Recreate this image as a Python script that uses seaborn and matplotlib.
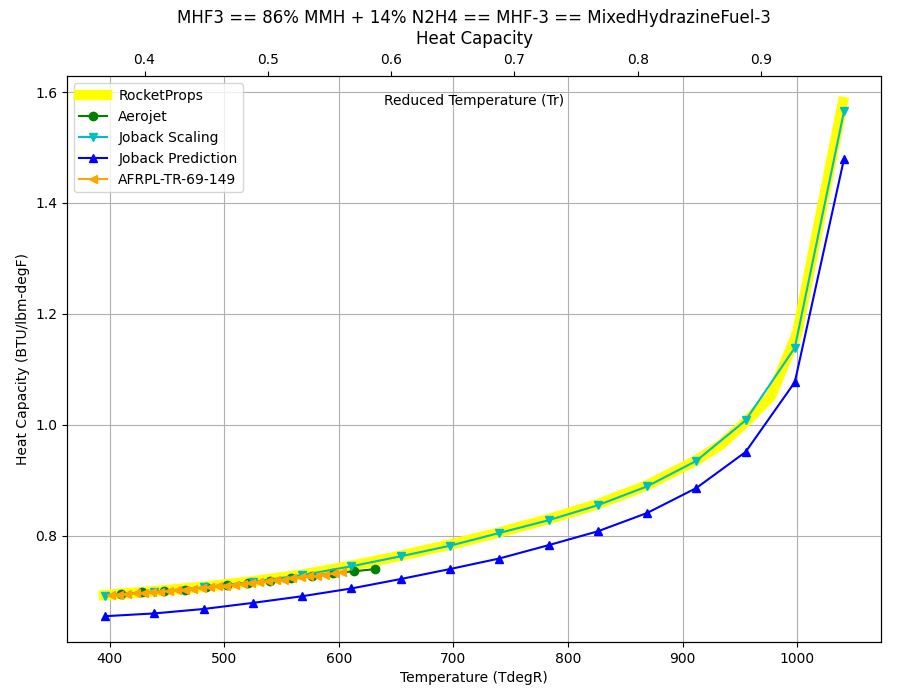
import matplotlib
matplotlib.use("Agg")
import matplotlib.pyplot as plt
import seaborn as sns

# critical temperature (degR) used for the reduced temperature axis
TC = 1076.0

rp_t = [395, 439, 482, 525, 568, 611, 654, 697, 740, 783, 826, 869, 912, 934, 955, 977, 1000, 1040]
rp_cp = [0.693, 0.700, 0.708, 0.718, 0.730, 0.746, 0.764, 0.784, 0.806, 0.830, 0.857, 0.891, 0.936, 0.965, 1.005, 1.051, 1.165, 1.582]

aj_t = [410, 428.5, 447, 465.5, 484, 502.5, 521, 539.5, 558, 576.5, 595, 613.5, 632]
aj_cp = [0.695, 0.698, 0.700, 0.703, 0.707, 0.711, 0.715, 0.719, 0.723, 0.728, 0.732, 0.736, 0.740]

js_t = [396, 439, 482, 525, 568, 611, 654, 697, 740, 783, 826, 869, 912, 955, 998, 1041]
js_cp = [0.692, 0.699, 0.707, 0.717, 0.729, 0.745, 0.763, 0.782, 0.805, 0.828, 0.855, 0.889, 0.935, 1.008, 1.139, 1.566]

jp_t = [396, 439, 482, 525, 568, 611, 654, 697, 740, 783, 826, 869, 912, 955, 998, 1041]
jp_cp = [0.655, 0.660, 0.668, 0.679, 0.691, 0.705, 0.722, 0.740, 0.759, 0.783, 0.808, 0.841, 0.886, 0.951, 1.077, 1.480]

af_t = [401.0, 408.2, 415.4, 422.6, 429.8, 437.0, 444.2, 451.4, 458.6, 465.8,
        473.0, 480.2, 487.4, 494.6, 501.8, 509.0, 516.2, 523.4, 530.6, 537.8,
        545.0, 552.2, 559.4, 566.6, 573.8, 581.0, 588.2, 595.4, 602.6]
af_cp = [0.693, 0.694, 0.695, 0.696, 0.697, 0.698, 0.699, 0.700, 0.702, 0.703,
         0.704, 0.706, 0.707, 0.709, 0.710, 0.712, 0.713, 0.715, 0.716, 0.718,
         0.720, 0.721, 0.723, 0.725, 0.727, 0.728, 0.730, 0.732, 0.734]

fig, ax = plt.subplots(figsize=(9, 7), dpi=100)
fig.subplots_adjust(left=0.0744, right=0.979, bottom=0.083, top=0.891)

sns.lineplot(x=rp_t, y=rp_cp, ax=ax, color="yellow", linewidth=7.5, label="RocketProps")

series = [
    (aj_t, aj_cp, "green", "o", "Aerojet"),
    (js_t, js_cp, "c", "v", "Joback Scaling"),
    (jp_t, jp_cp, "blue", "^", "Joback Prediction"),
    (af_t, af_cp, "orange", "<", "AFRPL-TR-69-149"),
]
for xs, ys, col, mk, lab in series:
    sns.lineplot(x=xs, y=ys, ax=ax, color=col, marker=mk, markersize=6,
                 markeredgecolor=col, markeredgewidth=1, linewidth=1.5, label=lab)

ax.grid(True, color="#b0b0b0", linewidth=0.8)
ax.set_xlabel("Temperature (TdegR)")
ax.set_ylabel("Heat Capacity (BTU/lbm-degF)")
ax.legend(loc="upper left")
ax.text(0.5, 0.968, "Reduced Temperature (Tr)", transform=ax.transAxes,
        ha="center", va="top", fontsize=10)

lo, hi = ax.get_xlim()
ax2 = ax.twiny()
ax2.set_xlim(lo / TC, hi / TC)
ax.set_title("MHF3 == 86% MMH + 14% N2H4 == MHF-3 == MixedHydrazineFuel-3\nHeat Capacity",
             fontsize=12)

fig.savefig("out.png", dpi=100)
